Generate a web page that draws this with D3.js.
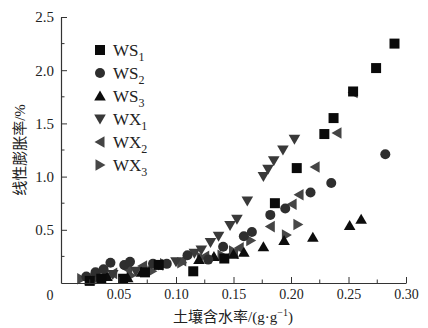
<!DOCTYPE html>
<html>
<head>
<meta charset="utf-8">
<script src="https://cdn.jsdelivr.net/npm/d3@7"></script>
<style>
  body { margin: 0; background: #fff; }
  svg text { font-family: "Liberation Serif", "Noto Sans CJK SC", serif; fill: #222; }
</style>
</head>
<body>
<figure id="chart" style="margin:0"></figure>
<script>
// data: [water content g/g, linear swelling %]
const ws1 = [[0.025,0.02],[0.035,0.04],[0.054,0.04],[0.073,0.10],[0.085,0.17],[0.115,0.11],[0.142,0.23],
  [0.186,0.75],[0.205,1.08],[0.229,1.40],[0.237,1.55],[0.254,1.80],[0.274,2.02],[0.290,2.25]];
const ws2 = [[0.022,0.06],[0.030,0.10],[0.037,0.13],[0.043,0.19],[0.055,0.17],[0.060,0.20],[0.080,0.18],
  [0.092,0.18],[0.110,0.26],[0.128,0.22],[0.141,0.34],[0.159,0.44],[0.166,0.48],[0.182,0.64],[0.195,0.70],
  [0.217,0.85],[0.235,0.94],[0.282,1.21]];
const ws3 = [[0.025,0.03],[0.040,0.06],[0.058,0.05],[0.070,0.10],[0.120,0.22],[0.133,0.25],[0.150,0.27],
  [0.159,0.29],[0.176,0.34],[0.194,0.40],[0.219,0.43],[0.251,0.54],[0.261,0.60]];
const wx1 = [[0.030,0.05],[0.045,0.08],[0.065,0.11],[0.085,0.17],[0.100,0.20],[0.116,0.28],[0.122,0.31],
  [0.130,0.38],[0.137,0.44],[0.147,0.54],[0.153,0.60],[0.162,0.77],[0.176,1.00],[0.180,1.07],[0.185,1.15],
  [0.193,1.25],[0.203,1.35]];
const wx2 = [[0.030,0.05],[0.045,0.09],[0.058,0.13],[0.071,0.16],[0.085,0.17],[0.105,0.21],[0.125,0.25],
  [0.150,0.28],[0.155,0.33],[0.182,0.53],[0.201,0.74],[0.207,0.83],[0.221,1.09],[0.240,1.41],[0.254,1.79]];
const wx3 = [[0.018,0.04],[0.030,0.05],[0.041,0.06],[0.061,0.07],[0.079,0.11],[0.090,0.18],[0.105,0.19],
  [0.122,0.24],[0.140,0.26],[0.150,0.30],[0.165,0.40],[0.196,0.45],[0.206,0.55]];

const seriesNames = ["WS", "WS", "WS", "WX", "WX", "WX"];
const seriesSubs = ["1", "2", "3", "1", "2", "3"];
const xTicks = [0.05, 0.10, 0.15, 0.20, 0.25, 0.30];
const yTicks = [0.5, 1.0, 1.5, 2.0, 2.5];

const series = [
  { pts: ws1, shape: "square", color: "#0a0a0a" },
  { pts: ws2, shape: "circle", color: "#2e2e2e" },
  { pts: ws3, shape: "up", color: "#0d0d0d" },
  { pts: wx1, shape: "down", color: "#393939" },
  { pts: wx2, shape: "left", color: "#444" },
  { pts: wx3, shape: "right", color: "#474747" }
];

const width = 428, height = 328;
const x = d3.scaleLinear().domain([0, 0.30]).range([61, 406]);
const y = d3.scaleLinear().domain([0, 2.5]).range([283, 17]);

const svg = d3.select("#chart").append("svg")
  .attr("width", width).attr("height", height);

// marker path centred at 0,0
function marker(shape, s) {
  switch (shape) {
    case "square": return `M${-s/2},${-s/2}h${s}v${s}h${-s}Z`;
    case "circle": return d3.symbol(d3.symbolCircle, Math.PI * (s/2) * (s/2))();
    case "up": return `M0,${-s*0.55}L${s*0.58},${s*0.45}L${-s*0.58},${s*0.45}Z`;
    case "down": return `M0,${s*0.55}L${s*0.58},${-s*0.45}L${-s*0.58},${-s*0.45}Z`;
    case "left": return `M${-s*0.55},0L${s*0.45},${s*0.58}L${s*0.45},${-s*0.58}Z`;
    case "right": return `M${s*0.55},0L${-s*0.45},${s*0.58}L${-s*0.45},${-s*0.58}Z`;
  }
}

// Points (later series drawn first so the WS squares sit on top)
series.slice().reverse().forEach(sr => {
  svg.append("g").selectAll("path")
    .data(sr.pts)
    .enter()
    .append("path")
    .attr("d", marker(sr.shape, 10))
    .attr("transform", d => `translate(${x(d[0])},${y(d[1])})`)
    .attr("fill", sr.color);
});

// Axes with inward ticks
const xMinor = d3.range(0.025, 0.30, 0.05);
const yMinor = d3.range(0.25, 2.5, 0.5);

const gx = svg.append("g").attr("transform", `translate(0,${y(0)})`);
gx.call(d3.axisBottom(x).tickValues(xTicks).tickSizeInner(-6).tickSizeOuter(0)
  .tickFormat(d3.format(".2f")));
gx.append("g").selectAll("line").data(xMinor).enter().append("line")
  .attr("x1", d => x(d)).attr("x2", d => x(d)).attr("y1", 0).attr("y2", -3.5)
  .attr("stroke", "#333");
gx.selectAll("text").attr("y", 6).style("font-size", "14px").attr("fill", "#222");

const gy = svg.append("g").attr("transform", `translate(${x(0)},0)`);
gy.call(d3.axisLeft(y).tickValues(yTicks).tickSizeInner(-6).tickSizeOuter(0)
  .tickFormat(d3.format(".1f")));
gy.append("g").selectAll("line").data(yMinor).enter().append("line")
  .attr("y1", d => y(d)).attr("y2", d => y(d)).attr("x1", 0).attr("x2", 3.5)
  .attr("stroke", "#333");
gy.selectAll("text").attr("x", -7).style("font-size", "15px").attr("fill", "#222");

svg.selectAll(".domain").attr("stroke", "#333").attr("stroke-width", 1.2);
svg.selectAll(".tick line").attr("stroke", "#333");

// shared origin label
svg.append("text").attr("x", 50).attr("y", y(0) + 17)
  .attr("text-anchor", "middle").style("font-size", "14px").text("0");

// Legend
const legend = svg.append("g");
series.forEach((sr, i) => {
  const ly = 50 + i * 23;
  legend.append("path").attr("d", marker(sr.shape, 10))
    .attr("transform", `translate(100,${ly})`).attr("fill", sr.color);
  const t = legend.append("text").attr("x", 113).attr("y", ly + 6).style("font-size", "17px");
  t.append("tspan").text(seriesNames[i]);
  t.append("tspan").attr("dy", 5).style("font-size", "12px").text(seriesSubs[i]);
});

// Axis titles
svg.append("text")
  .attr("transform", `translate(25,${(y(0) + y(2.5)) / 2}) rotate(-90)`)
  .attr("text-anchor", "middle").style("font-size", "15px")
  .text("线性膨胀率/%");

const xt = svg.append("text").attr("x", 233).attr("y", 322)
  .attr("text-anchor", "middle").style("font-size", "15px");
xt.append("tspan").text("土壤含水率/(g·g");
xt.append("tspan").attr("dy", -6).style("font-size", "10px").text("−1");
xt.append("tspan").attr("dy", 6).text(")");
</script>
</body>
</html>
